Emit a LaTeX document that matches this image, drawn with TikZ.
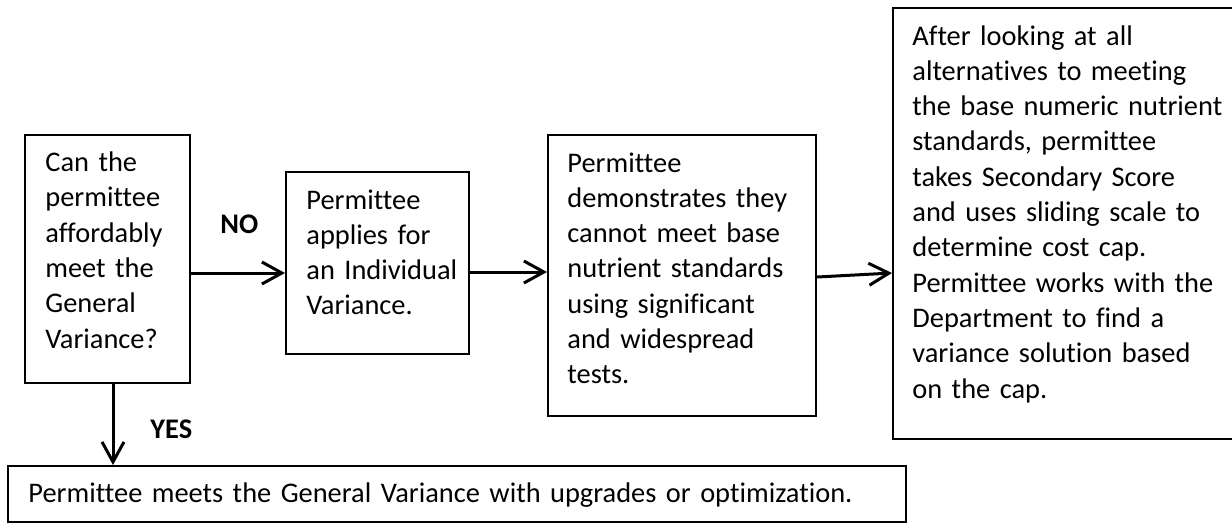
\documentclass[tikz,border=0pt]{standalone}
\usepackage{fontspec}
\setmainfont{Carlito}[Ligatures={NoCommon}]
\usetikzlibrary{arrows.meta,calc}
\tikzset{
  boxnode/.style={draw, line width=1.1pt, inner sep=0pt, anchor=north west},
  txtnode/.style={inner sep=0pt, anchor=base west, align=left,
    font=\fontsize{14.2}{17.65}\selectfont},
  lbl/.style={inner sep=0pt, anchor=base west, font=\fontsize{14.2}{17.65}\selectfont\bfseries},
  arr/.style={line width=1.5pt, -{Straight Barb[length=10pt,width=11pt,line width=1.5pt]}}
}
\begin{document}
\begin{tikzpicture}[x=0.5pt,y=-0.5pt]
\useasboundingbox (0,0) rectangle (1232,527);
% boxes
\node[boxnode, minimum width=82.5pt, minimum height=124pt] (b1) at (24,134) {};
\node[boxnode, minimum width=91.5pt, minimum height=91pt] (b2) at (285,171) {};
\node[boxnode, minimum width=134pt, minimum height=140.5pt] (b3) at (547,134) {};
\node[boxnode, minimum width=180pt, minimum height=215.5pt] (b4) at (892,7) {};
\node[boxnode, minimum width=449pt, minimum height=28pt] (b5) at (7,465) {};
% texts
\node[txtnode, text width=75pt] (t1) at (45,171.5) {Can the\\permittee\\affordably\\meet the\\General\\Variance?};
\node[txtnode, text width=85pt] (t2) at (306,209) {Permittee\\applies for\\an Individual\\Variance.};
\node[txtnode, text width=125pt] (t3) at (567,172) {Permittee\\demonstrates they\\cannot meet base\\nutrient standards\\using significant\\and widespread\\tests.};
\node[txtnode, text width=160pt] (t4) at (912,45) {After looking at all\\alternatives to meeting\\the base numeric nutrient\\standards, permittee\\takes Secondary Score\\and uses sliding scale to\\determine cost cap.\\Permittee works with the\\Department to find a\\variance solution based\\on the cap.};
\node[txtnode, text width=440pt] (t5) at (28,502) {Permittee meets the General Variance with upgrades or optimization.};
% labels
\node[lbl] (no) at (220,233) {NO};
\node[lbl] (yes) at (150,438) {YES};
% connectors
\coordinate (y1) at (0,273);
\coordinate (y2) at (0,272);
\coordinate (y3a) at (0,277);
\coordinate (y3b) at (0,273);
\coordinate (xdown) at (113,0);
\draw[arr] (b1.east |- y1) -- (b2.west |- y1);
\draw[arr] (b2.east |- y2) -- (b3.west |- y2);
\draw[arr] (b3.east |- y3a) -- (b4.west |- y3b);
\draw[arr] (b1.south -| xdown) -- (b5.north -| xdown);
\end{tikzpicture}
\end{document}
